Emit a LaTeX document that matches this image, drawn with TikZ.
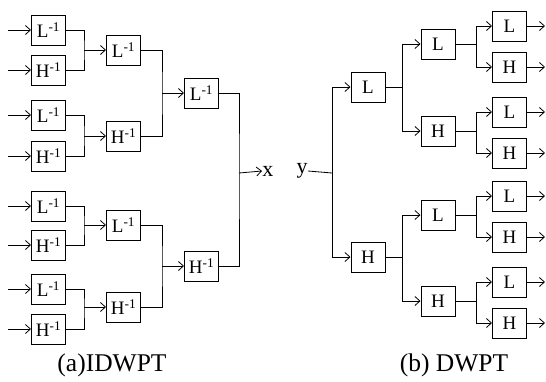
\documentclass[tikz,border=0pt]{standalone}
\usepackage{fontspec}
\setmainfont{Liberation Serif}
\usetikzlibrary{arrows.meta}
\begin{document}
\begin{tikzpicture}[x=1pt, y=-1pt, line width=0.8pt,
  >={Straight Barb[length=5pt,width=9pt]},
  filt/.style={draw, line width=1pt, minimum width=34pt, minimum height=30pt, inner sep=0pt, font=\fontsize{19}{19}\selectfont},
  lbl/.style={font=\fontsize{22}{22}\selectfont, inner sep=0pt},
  capt/.style={font=\fontsize{25.5}{25.5}\selectfont, inner sep=0pt}]
  \useasboundingbox (0,0) rectangle (546,381);
  % (a) IDWPT
  \node[filt] (a1) at (48.5,30)  {L\textsuperscript{-1}};
  \node[filt] (a2) at (48.5,70)  {H\textsuperscript{-1}};
  \node[filt] (a3) at (48.5,115) {L\textsuperscript{-1}};
  \node[filt] (a4) at (48.5,156) {H\textsuperscript{-1}};
  \node[filt] (a5) at (48.5,206) {L\textsuperscript{-1}};
  \node[filt] (a6) at (48.5,245) {H\textsuperscript{-1}};
  \node[filt] (a7) at (48.5,289) {L\textsuperscript{-1}};
  \node[filt] (a8) at (48.5,329) {H\textsuperscript{-1}};
  \foreach \i/\y in {1/30,2/70,3/115,4/156,5/206,6/245,7/289,8/329} {
    \coordinate (in\i) at (8,\y);
    \draw[->] (in\i) -- (a\i.west);
  }
  \node[filt] (b1) at (123.5,50)  {L\textsuperscript{-1}};
  \node[filt] (b2) at (123.5,136) {H\textsuperscript{-1}};
  \node[filt] (b3) at (123.5,225) {L\textsuperscript{-1}};
  \node[filt] (b4) at (123.5,307) {H\textsuperscript{-1}};
  \coordinate (ma1) at (84,50);
  \coordinate (ma2) at (84,136);
  \coordinate (ma3) at (84,225);
  \coordinate (ma4) at (84,307);
  \draw (a1.east) -| (ma1) |- (a2.east);
  \draw (a3.east) -| (ma2) |- (a4.east);
  \draw (a5.east) -| (ma3) |- (a6.east);
  \draw (a7.east) -| (ma4) |- (a8.east);
  \draw[->] (ma1) -- (b1.west);
  \draw[->] (ma2) -- (b2.west);
  \draw[->] (ma3) -- (b3.west);
  \draw[->] (ma4) -- (b4.west);
  \node[filt] (c1) at (201.5,93)  {L\textsuperscript{-1}};
  \node[filt] (c2) at (201.5,266) {H\textsuperscript{-1}};
  \coordinate (mb1) at (162,93);
  \coordinate (mb2) at (162,266);
  \draw (b1.east) -| (mb1) |- (b2.east);
  \draw (b3.east) -| (mb2) |- (b4.east);
  \draw[->] (mb1) -- (c1.west);
  \draw[->] (mb2) -- (c2.west);
  \coordinate (mc) at (239,173);
  \node[lbl, anchor=west] (x) at (262,171) {x};
  \draw (c1.east) -| (mc) |- (c2.east);
  \draw[->] (mc) -- (x.west);
  \node[capt] (capa) at (112,365) {(a)IDWPT};
  % (b) DWPT
  \node[lbl, anchor=east] (y) at (308,171) {y};
  \coordinate (md) at (332,173);
  \node[filt] (r1) at (368,87)  {L};
  \node[filt] (r2) at (368,257) {H};
  \draw (y.east) -- (md);
  \draw[->] (md) |- (r1.west);
  \draw[->] (md) |- (r2.west);
  \node[filt] (s1) at (438,44)  {L};
  \node[filt] (s2) at (438,131) {H};
  \node[filt] (s3) at (438,215) {L};
  \node[filt] (s4) at (438,301) {H};
  \coordinate (me1) at (402,87);
  \coordinate (me2) at (402,257);
  \draw (r1.east) -- (me1);
  \draw (r2.east) -- (me2);
  \draw[->] (me1) |- (s1.west);
  \draw[->] (me1) |- (s2.west);
  \draw[->] (me2) |- (s3.west);
  \draw[->] (me2) |- (s4.west);
  \node[filt] (t1) at (509.5,26)  {L};
  \node[filt] (t2) at (509.5,67)  {H};
  \node[filt] (t3) at (509.5,112) {L};
  \node[filt] (t4) at (509.5,153) {H};
  \node[filt] (t5) at (509.5,196) {L};
  \node[filt] (t6) at (509.5,237) {H};
  \node[filt] (t7) at (509.5,282) {L};
  \node[filt] (t8) at (509.5,323) {H};
  \coordinate (mf1) at (476,46);
  \coordinate (mf2) at (476,132);
  \coordinate (mf3) at (476,216);
  \coordinate (mf4) at (476,302);
  \draw (s1.east) -- (s1.east -| mf1);
  \draw (s2.east) -- (s2.east -| mf2);
  \draw (s3.east) -- (s3.east -| mf3);
  \draw (s4.east) -- (s4.east -| mf4);
  \draw[->] (mf1) |- (t1.west);
  \draw[->] (mf1) |- (t2.west);
  \draw[->] (mf2) |- (t3.west);
  \draw[->] (mf2) |- (t4.west);
  \draw[->] (mf3) |- (t5.west);
  \draw[->] (mf3) |- (t6.west);
  \draw[->] (mf4) |- (t7.west);
  \draw[->] (mf4) |- (t8.west);
  \foreach \i in {1,...,8} {
    \coordinate (out\i) at (t\i.east -| 545,0);
    \draw[->] (t\i.east) -- (out\i);
  }
  \node[capt] (capb) at (454,365) {(b) DWPT};
\end{tikzpicture}
\end{document}
